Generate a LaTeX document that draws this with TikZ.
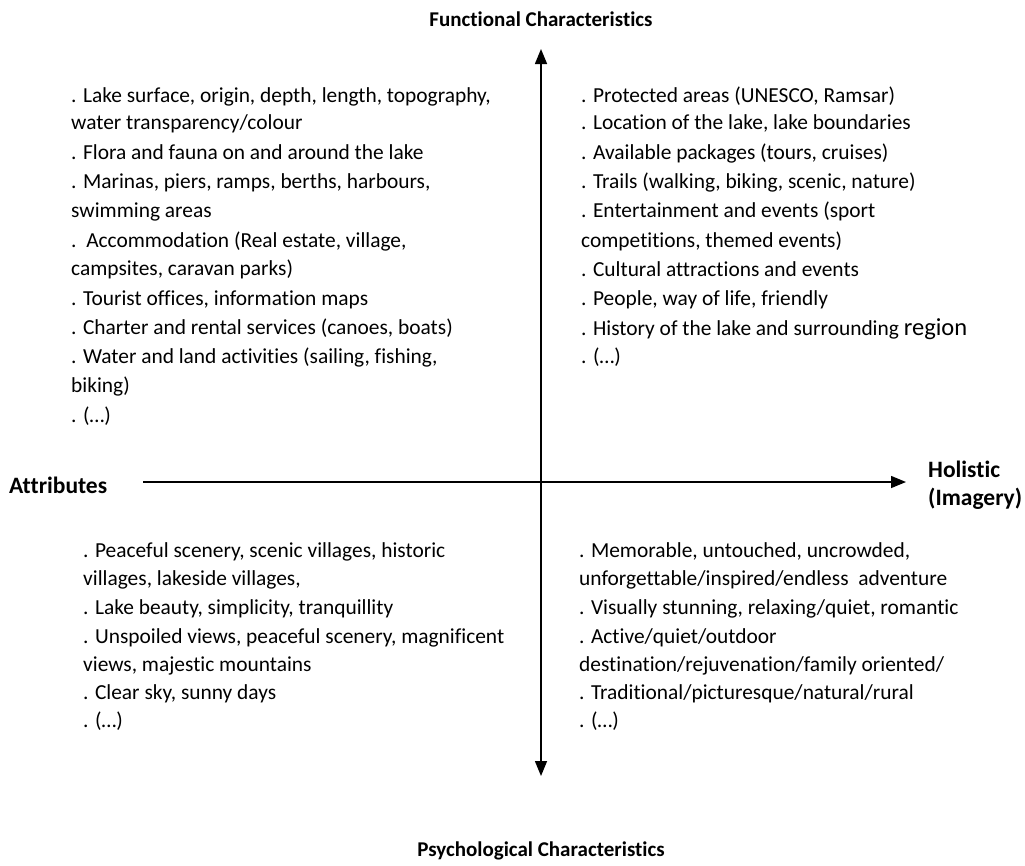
\documentclass[tikz,border=0pt]{standalone}
\usepackage{fontspec}
\setmainfont{Carlito}[Ligatures=NoCommon]
\usetikzlibrary{arrows.meta}
\begin{document}
\begin{tikzpicture}[x=1pt,y=-1pt,
  item/.style={anchor=base west,inner sep=0pt,font=\fontsize{21.4}{24}\selectfont},
  axislabel/.style={inner sep=0pt,anchor=base,font=\fontsize{21}{24}\selectfont\bfseries},
  sidelabel/.style={inner sep=0pt,anchor=base west,font=\fontsize{23.5}{26}\selectfont\bfseries},
  axis/.style={line width=1.5pt,-{Triangle[length=15pt,width=12pt]}}]
\useasboundingbox (0,0) rectangle (1025,865);

% axis end points
\coordinate (top) at (541,49);
\coordinate (bottom) at (541,776);
\coordinate (left) at (143,482);
\coordinate (right) at (906,482);
\coordinate (origin) at (541,482);

\draw[axis] (origin) -- (top);
\draw[axis] (origin) -- (bottom);
\draw[line width=1.5pt] (origin) -- (left);
\draw[axis] (origin) -- (right);

% axis labels
\node[axislabel] (func) at (541,26) {Functional Characteristics};
\node[axislabel] (psych) at (541,856) {Psychological Characteristics};
\node[sidelabel] (attr) at (9,493) {Attributes};
\node[sidelabel] (holi) at (928,477) {Holistic};
\node[sidelabel] (imag) at (928,505) {(Imagery)};

% upper left: functional attributes
\foreach \y/\t [count=\i] in {
  102/{. Lake surface, origin, depth, length, topography,},
  129/{water transparency/colour},
  159/{. Flora and fauna on and around the lake},
  188/{. Marinas, piers, ramps, berths, harbours,},
  217/{swimming areas},
  247/{.\ \ Accommodation (Real estate, village,},
  275/{campsites, caravan parks)},
  305/{. Tourist offices, information maps},
  334/{. Charter and rental services (canoes, boats)},
  363/{. Water and land activities (sailing, fishing,},
  392/{biking)},
  422/{. (…)}}
  \node[item] (tl\i) at (71,\y) {\t};

% upper right: functional holistic
\foreach \y/\t [count=\i] in {
  102/{. Protected areas (UNESCO, Ramsar)},
  129/{. Location of the lake, lake boundaries},
  159/{. Available packages (tours, cruises)},
  188/{. Trails (walking, biking, scenic, nature)},
  217/{. Entertainment and events (sport},
  247/{competitions, themed events)},
  276/{. Cultural attractions and events},
  305/{. People, way of life, friendly},
  335/{. History of the lake and surrounding {\fontsize{24.5}{26}\selectfont region}},
  363/{. (…)}}
  \node[item] (tr\i) at (581,\y) {\t};

% lower left: psychological attributes
\foreach \y/\t [count=\i] in {
  557/{. Peaceful scenery, scenic villages, historic},
  585/{villages, lakeside villages,},
  614/{. Lake beauty, simplicity, tranquillity},
  643/{. Unspoiled views, peaceful scenery, magnificent},
  671/{views, majestic mountains},
  699/{. Clear sky, sunny days},
  727/{. (…)}}
  \node[item] (bl\i) at (83,\y) {\t};

% lower right: psychological holistic
\foreach \y/\t [count=\i] in {
  557/{. Memorable, untouched, uncrowded,},
  585/{unforgettable/inspired/endless\ \ adventure},
  614/{. Visually stunning, relaxing/quiet, romantic},
  643/{. Active/quiet/outdoor},
  671/{destination/rejuvenation/family oriented/},
  699/{. Traditional/picturesque/natural/rural},
  727/{. (…)}}
  \node[item] (br\i) at (579,\y) {\t};
\end{tikzpicture}
\end{document}
